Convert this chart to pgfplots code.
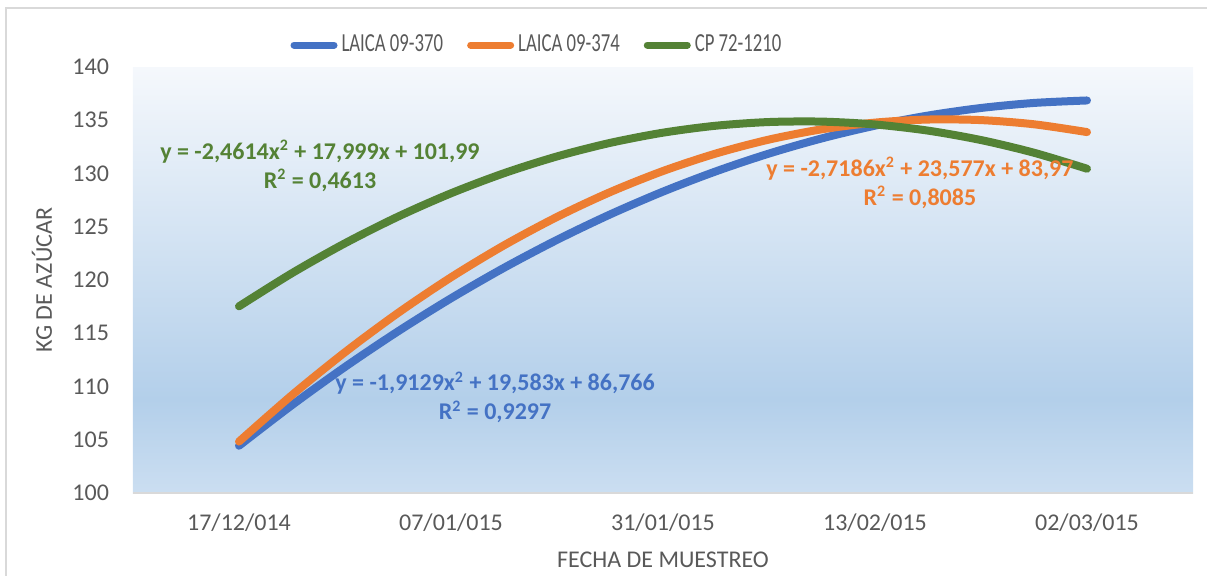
\documentclass[border=0pt]{standalone}
\usepackage{fontspec}
\setmainfont{Carlito}
\newfontfamily\legfont[FakeStretch=0.72]{Carlito}
\usepackage{pgfplots}
\pgfplotsset{compat=1.18}

\definecolor{cblue}{HTML}{4472C4}
\definecolor{corange}{HTML}{ED7D31}
\definecolor{cgreen}{HTML}{548235}
\definecolor{ticktext}{HTML}{595959}
\definecolor{bgtop}{HTML}{F5F8FC}
\definecolor{bgmid}{HTML}{B3CFEA}
\definecolor{bgbot}{HTML}{CBDEF1}
\pgfdeclareverticalshading{bgshade}{100bp}{color(0bp)=(bgbot); color(25bp)=(bgbot); color(36bp)=(bgmid); color(75bp)=(bgtop); color(100bp)=(bgtop)}

\begin{document}
\begin{tikzpicture}
\useasboundingbox (-66.5pt,-41pt) rectangle (537pt,246.5pt);
\draw[color=gray!30, line width=0.8pt] (-63.5pt,-60pt) -- (-63.5pt,242.5pt) -- (600pt,242.5pt);
\begin{axis}[
  at={(0,0)}, anchor=south west,
  scale only axis, width=530pt, height=213pt,
  xmin=0.5, xmax=5.5, ymin=100, ymax=140,
  xtick={1,2,3,4,5},
  xticklabels={17/12/014,07/01/015,31/01/015,13/02/015,02/03/015},
  ytick={100,105,...,140},
  major tick length=0pt,
  axis x line*=bottom, axis y line*=left,
  x axis line style={draw=gray!30, line width=1pt, -},
  y axis line style={draw=none},
  axis background/.style={shading=bgshade, draw=none},
  tick label style={font=\fontsize{12}{14}\selectfont, text=ticktext},
  /pgf/number format/assume math mode=true,
  yticklabel style={xshift=-8.5pt},
  xticklabel style={yshift=-7pt},
  xlabel={FECHA DE MUESTREO},
  ylabel={KG DE AZÚCAR},
  label style={font=\fontsize{12}{14}\selectfont, text=ticktext},
  xlabel style={at={(axis description cs:0.5,-0.157)}, anchor=center},
  ylabel style={at={(axis description cs:-0.0858,0.5)}, anchor=center},
  legend columns=3,
  legend style={at={(axis description cs:0.382,1.0516)}, anchor=center,
    draw=none, fill=none, font=\legfont\fontsize{13}{14}\selectfont, text=ticktext,
    /tikz/every even column/.append style={column sep=10pt}},
  legend image code/.code={\draw[#1, line width=3.5pt, line cap=round] (0pt,0pt) -- (20pt,0pt);},
  every axis plot/.append style={line width=4pt, line cap=round, smooth, no markers},
]
\addplot[cblue] coordinates {
(1,104.436) (1.25,108.256) (1.5,111.837) (1.75,115.178) (2,118.280)
(2.25,121.144) (2.5,123.768) (2.75,126.153) (3,128.299) (3.25,130.206)
(3.5,131.874) (3.75,133.302) (4,134.492) (4.25,135.442) (4.5,136.153)
(4.75,136.626) (5,136.859)};
\addplot[corange] coordinates {
(1,104.828) (1.25,109.194) (1.5,113.219) (1.75,116.904) (2,120.250)
(2.25,123.255) (2.5,125.921) (2.75,128.247) (3,130.234) (3.25,131.880)
(3.5,133.187) (3.75,134.153) (4,134.780) (4.25,135.068) (4.5,135.015)
(4.75,134.622) (5,133.890)};
\addplot[cgreen] coordinates {
(1,117.528) (1.25,120.643) (1.5,123.450) (1.75,125.950) (2,128.142)
(2.25,130.027) (2.5,131.604) (2.75,132.873) (3,133.834) (3.25,134.488)
(3.5,134.834) (3.75,134.873) (4,134.604) (4.25,134.027) (4.5,133.142)
(4.75,131.950) (5,130.450)};
\legend{LAICA 09-370,LAICA 09-374,CP 72-1210}
\node[text=cgreen, font=\bfseries\fontsize{12}{14.5}\selectfont, align=center] at (axis cs:1.382,130.7)
  {y = -2,4614x\textsuperscript{2} + 17,999x + 101,99\\R\textsuperscript{2} = 0,4613};
\node[text=corange, font=\bfseries\fontsize{12}{14.5}\selectfont, align=center] at (axis cs:4.212,129.15)
  {y = -2,7186x\textsuperscript{2} + 23,577x + 83,97\\R\textsuperscript{2} = 0,8085};
\node[text=cblue, font=\bfseries\fontsize{12}{14.5}\selectfont, align=center] at (axis cs:2.208,108.97)
  {y = -1,9129x\textsuperscript{2} + 19,583x + 86,766\\R\textsuperscript{2} = 0,9297};
\end{axis}
\end{tikzpicture}
\end{document}
